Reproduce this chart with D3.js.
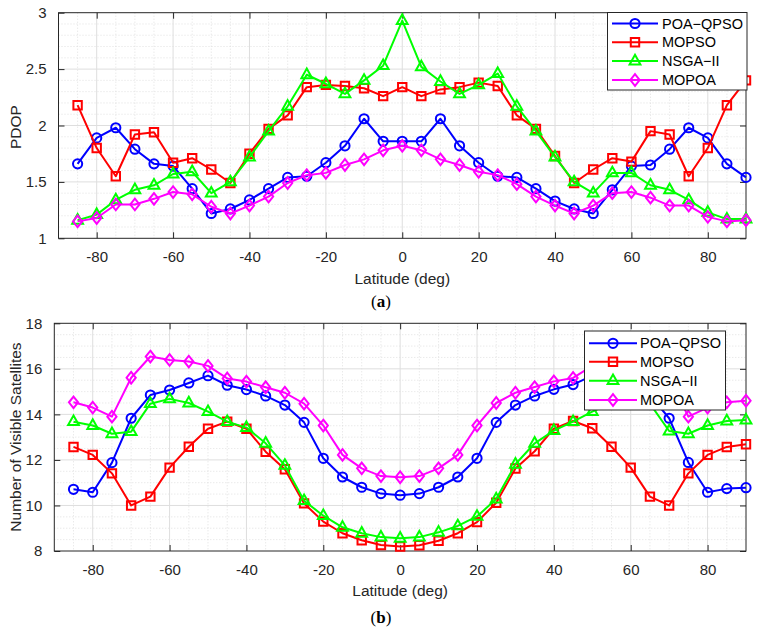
<!DOCTYPE html>
<html><head><meta charset="utf-8">
<script src="https://cdn.jsdelivr.net/npm/d3@7"></script>
<style>body{margin:0;background:#fff}svg{display:block}</style>
</head><body><svg id="c" width="760" height="634"></svg>
<script>
// ---- data ----
const latitude = [-85,-80,-75,-70,-65,-60,-55,-50,-45,-40,-35,-30,-25,-20,-15,-10,-5,0,5,10,15,20,25,30,35,40,45,50,55,60,65,70,75,80,85,90];
const seriesNames = ["POA\u2212QPSO","MOPSO","NSGA\u2212II","MOPOA"];

const pdopPOAQPSO = [1.66,1.89,1.98,1.79,1.66,1.64,1.44,1.22,1.26,1.34,1.44,1.54,1.55,1.67,1.82,2.06,1.86,1.86,1.86,2.06,1.82,1.67,1.55,1.54,1.44,1.33,1.26,1.22,1.43,1.64,1.65,1.79,1.98,1.89,1.66,1.54];
const pdopMOPSO   = [2.18,1.80,1.55,1.92,1.94,1.67,1.71,1.61,1.49,1.75,1.97,2.09,2.34,2.36,2.35,2.33,2.26,2.34,2.26,2.32,2.34,2.38,2.35,2.09,1.97,1.73,1.49,1.61,1.71,1.68,1.95,1.92,1.55,1.80,2.18,2.40];
const pdopNSGAII  = [1.16,1.21,1.34,1.43,1.47,1.57,1.59,1.40,1.50,1.72,1.95,2.17,2.45,2.37,2.28,2.40,2.53,2.93,2.52,2.39,2.28,2.36,2.46,2.17,1.95,1.72,1.50,1.40,1.58,1.58,1.47,1.43,1.34,1.23,1.17,1.17];
const pdopMOPOA   = [1.15,1.18,1.30,1.30,1.35,1.41,1.39,1.28,1.22,1.29,1.37,1.49,1.56,1.58,1.65,1.70,1.78,1.82,1.78,1.70,1.65,1.59,1.56,1.48,1.37,1.29,1.22,1.29,1.40,1.41,1.36,1.29,1.29,1.19,1.15,1.16];

const visPOAQPSO = [10.71,10.58,11.88,13.83,14.85,15.07,15.38,15.70,15.28,15.09,14.81,14.41,13.65,12.07,11.25,10.80,10.52,10.45,10.52,10.80,11.25,12.07,13.65,14.41,14.81,15.10,15.31,15.70,15.38,15.07,14.85,13.83,11.89,10.58,10.74,10.78];
const visMOPSO   = [12.57,12.22,11.41,10.00,10.39,11.66,12.58,13.37,13.68,13.37,12.36,11.59,10.09,9.29,8.78,8.47,8.26,8.20,8.25,8.45,8.78,9.27,10.12,11.62,12.38,13.37,13.71,13.39,12.58,11.66,10.39,10.00,11.41,12.22,12.57,12.69];
const visNSGAII  = [13.68,13.51,13.15,13.24,14.47,14.68,14.50,14.12,13.68,13.42,12.73,11.76,10.21,9.55,9.04,8.78,8.61,8.56,8.61,8.82,9.10,9.52,10.28,11.81,12.73,13.29,13.68,14.12,14.50,14.68,14.47,13.27,13.15,13.51,13.71,13.75];
const visMOPOA   = [14.53,14.30,13.90,15.61,16.54,16.39,16.32,16.13,15.58,15.44,15.19,14.95,14.47,13.51,12.22,11.63,11.29,11.24,11.29,11.63,12.22,13.51,14.50,14.95,15.20,15.45,15.60,16.13,16.32,16.39,16.54,15.61,13.90,14.30,14.53,14.60];

const xTicks = [-80,-60,-40,-20,0,20,40,60,80];
const xMinorTicks = [-85,-75,-70,-65,-55,-50,-45,-35,-30,-25,-15,-10,-5,5,10,15,25,30,35,45,50,55,65,70,75,85];
const pdopTicks = [1,1.5,2,2.5,3];
const pdopMinorTicks = [1.1,1.2,1.3,1.4,1.6,1.7,1.8,1.9,2.1,2.2,2.3,2.4,2.6,2.7,2.8,2.9];
const visTicks = [8,10,12,14,16,18];
const visMinorTicks = [8.5,9,9.5,10.5,11,11.5,12.5,13,13.5,14.5,15,15.5,16.5,17,17.5];

// ---- styles ----
const colors = ["#0000ff","#ff0000","#00ff00","#ff00ff"];
const markers = ["circle","square","triangle","diamond"];
const axisColor = "#262626";
const font = "'Liberation Sans', Arial, sans-serif";

function markerPath(type){
  if(type==="circle"){ const r=4.6; return `M${-r},0A${r},${r} 0 1,0 ${r},0A${r},${r} 0 1,0 ${-r},0Z`; }
  if(type==="square"){ const h=4.2; return `M${-h},${-h}H${h}V${h}H${-h}Z`; }
  if(type==="triangle"){ return `M0,-6.2L5.4,3.4L-5.4,3.4Z`; }
  return `M0,-5.8L4.6,0L0,5.8L-4.6,0Z`;
}

const svg = d3.select("#c");

function panel(opt){
  const g = svg.append("g");
  const x = d3.scaleLinear().domain([-90,90]).range([opt.left, opt.right]);
  const y = d3.scaleLinear().domain(opt.yDomain).range([opt.bottom, opt.top]);

  // minor grid
  g.append("g").selectAll("line").data(xMinorTicks).join("line")
    .attr("x1",d=>x(d)).attr("x2",d=>x(d)).attr("y1",opt.top).attr("y2",opt.bottom)
    .attr("stroke","#d9d9d9").attr("stroke-width",0.8).attr("stroke-dasharray","1,2");
  g.append("g").selectAll("line").data(opt.yMinor).join("line")
    .attr("y1",d=>y(d)).attr("y2",d=>y(d)).attr("x1",opt.left).attr("x2",opt.right)
    .attr("stroke","#d9d9d9").attr("stroke-width",0.8).attr("stroke-dasharray","1,2");
  // major grid
  g.append("g").selectAll("line").data(xTicks).join("line")
    .attr("x1",d=>x(d)).attr("x2",d=>x(d)).attr("y1",opt.top).attr("y2",opt.bottom)
    .attr("stroke","#dedede").attr("stroke-width",1);
  g.append("g").selectAll("line").data(opt.yTicks.slice(1,-1)).join("line")
    .attr("y1",d=>y(d)).attr("y2",d=>y(d)).attr("x1",opt.left).attr("x2",opt.right)
    .attr("stroke","#dedede").attr("stroke-width",1);

  // axes via d3 axis (ticks inside)
  const fmt = d=>String(d).replace("\u2212","-");
  const ax = [
    d3.axisBottom(x).tickValues(xTicks).tickSize(-6).tickPadding(13).tickFormat(fmt),
  ];
  const gx = g.append("g").attr("transform",`translate(0,${opt.bottom})`).call(ax[0]);
  const gxt = g.append("g").attr("transform",`translate(0,${opt.top})`).call(d3.axisTop(x).tickValues(xTicks).tickSize(-6).tickFormat(""));
  const gy = g.append("g").attr("transform",`translate(${opt.left},0)`).call(d3.axisLeft(y).tickValues(opt.yTicks).tickSize(-6).tickPadding(12).tickFormat(fmt));
  const gyr = g.append("g").attr("transform",`translate(${opt.right},0)`).call(d3.axisRight(y).tickValues(opt.yTicks).tickSize(-6).tickFormat(""));
  [gx,gxt,gy,gyr].forEach(a=>{
    a.select(".domain").remove();
    a.selectAll("line").attr("stroke",axisColor);
    a.selectAll("text").attr("fill",axisColor).style("font-family",font).style("font-size","15px");
  });
  // box
  g.append("rect").attr("x",opt.left).attr("y",opt.top)
    .attr("width",opt.right-opt.left).attr("height",opt.bottom-opt.top)
    .attr("fill","none").attr("stroke",axisColor).attr("stroke-width",1);

  // series
  const line = d3.line().x((d,i)=>x(latitude[i])).y(d=>y(d));
  opt.series.forEach((s,k)=>{
    g.append("path").datum(s).attr("d",line).attr("fill","none")
      .attr("stroke",colors[k]).attr("stroke-width",2).attr("stroke-linejoin","round");
    g.append("g").selectAll("path").data(s).join("path")
      .attr("transform",(d,i)=>`translate(${x(latitude[i])},${y(d)})`)
      .attr("d",markerPath(markers[k])).attr("fill","none")
      .attr("stroke",colors[k]).attr("stroke-width",2);
  });

  // labels
  g.append("text").attr("x",(opt.left+opt.right)/2).attr("y",opt.xLabelY)
    .attr("text-anchor","middle").attr("fill",axisColor)
    .style("font-family",font).style("font-size","15.5px").text("Latitude (deg)");
  g.append("text").attr("transform",`translate(${opt.yLabelX},${opt.yLabelCY}) rotate(-90)`)
    .attr("text-anchor","middle").attr("fill",axisColor)
    .style("font-family",font).style("font-size","15.5px").text(opt.yLabel);
  const cap = g.append("text").attr("x",381).attr("y",opt.capY).attr("text-anchor","middle")
    .style("font-family","'Liberation Serif', 'Times New Roman', serif").style("font-size","17px").attr("fill","#000");
  cap.append("tspan").text("(");
  cap.append("tspan").attr("font-weight","bold").text(opt.cap);
  cap.append("tspan").text(")");

  // legend
  const L = opt.legend;
  const lg = g.append("g");
  lg.append("rect").attr("x",L.x0).attr("y",L.y0).attr("width",L.x1-L.x0).attr("height",L.y1-L.y0)
    .attr("fill","#fff").attr("stroke",axisColor).attr("stroke-width",1);
  seriesNames.forEach((nm,k)=>{
    const yy = L.rows[k];
    lg.append("line").attr("x1",L.lx0).attr("x2",L.lx1).attr("y1",yy).attr("y2",yy)
      .attr("stroke",colors[k]).attr("stroke-width",2);
    lg.append("path").attr("transform",`translate(${(L.lx0+L.lx1)/2},${yy})`)
      .attr("d",markerPath(markers[k])).attr("fill","none").attr("stroke",colors[k]).attr("stroke-width",2);
    lg.append("text").attr("x",L.tx).attr("y",yy+5).attr("fill","#000")
      .style("font-family",font).style("font-size","14.5px").text(nm);
  });
}

panel({
  left:58.5, right:746, top:12.7, bottom:238.3,
  yDomain:[1,3], yTicks:pdopTicks, yMinor:pdopMinorTicks,
  series:[pdopPOAQPSO,pdopMOPSO,pdopNSGAII,pdopMOPOA],
  xLabelY:284, yLabel:"PDOP", yLabelX:21, yLabelCY:127, capY:307, cap:"a",
  legend:{x0:607.5,x1:747,y0:12.5,y1:90,lx0:612,lx1:658,tx:662,rows:[23.5,42.3,61,80]}
});
panel({
  left:54.3, right:746, top:323.3, bottom:551,
  yDomain:[8,18], yTicks:visTicks, yMinor:visMinorTicks,
  series:[visPOAQPSO,visMOPSO,visNSGAII,visMOPOA],
  xLabelY:596, yLabel:"Number of Visible Satellites", yLabelX:21, yLabelCY:437, capY:623, cap:"b",
  legend:{x0:584.5,x1:725.5,y0:331,y1:410,lx0:589,lx1:637,tx:640,rows:[343.3,361.7,380.7,400]}
});
</script></body></html>
